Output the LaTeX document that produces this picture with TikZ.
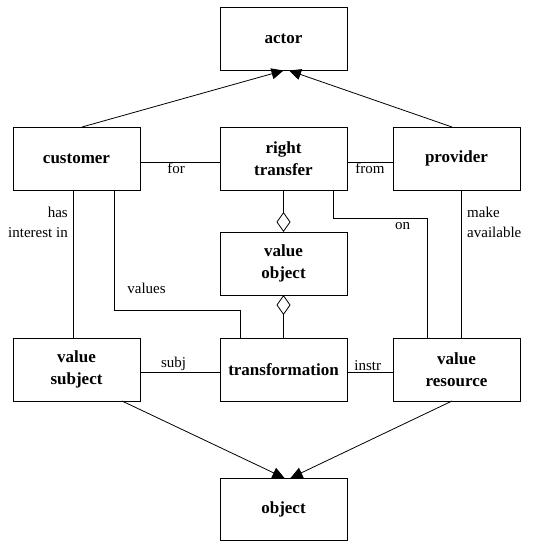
\documentclass[tikz,border=0pt]{standalone}
\usepackage{fontspec}
\setmainfont{Liberation Serif}
\usetikzlibrary{arrows.meta}
\begin{document}
\begin{tikzpicture}[x=1pt,y=-1pt,
  box/.style={draw, line width=0.9pt, minimum width=127pt, minimum height=63pt, inner sep=0pt, outer sep=0pt, align=center, font=\fontsize{17}{21.5}\selectfont\bfseries},
  lbl/.style={font=\fontsize{15}{20}\selectfont, inner sep=1pt},
  conn/.style={line width=0.8pt},
  isa/.style={line width=0.8pt, -{Triangle[length=12pt,width=11pt]}},
  agg/.style={line width=0.8pt, {Diamond[open,length=20pt,width=14pt,line width=0.8pt]}-}
]
\useasboundingbox (0,0) rectangle (551,541);
\node[box] (actor) at (283.5,39) {actor};
\node[box] (customer) at (76.5,158.5) {customer};
\node[box] (rt) at (283.5,158.5) {right\\transfer};
\node[box] (provider) at (456.5,158.5) {provider};
\node[box] (vo) at (283.5,263.5) {value\\object};
\node[box] (vs) at (76.5,369.5) {value\\subject};
\node[box] (tr) at (283.5,369.5) {transformation};
\node[box] (vr) at (456.5,369.5) {value\\resource};
\node[box, minimum height=62pt] (obj) at (283.5,509) {object};

% generalizations
\draw[isa] ([xshift=5.5pt]customer.north) -- ([xshift=0pt]actor.south);
\draw[isa] ([xshift=-4.5pt]provider.north) -- ([xshift=5.5pt]actor.south);
\draw[isa] ([xshift=45.5pt]vs.south) -- ([xshift=1pt]obj.north);
\draw[isa] ([xshift=-4.5pt]vr.south) -- ([xshift=7pt]obj.north);

% horizontal associations
\draw[conn] ([yshift=-3.5pt]customer.east) -- node[lbl, below, pos=0.45] {for} ([yshift=-3.5pt]rt.west);
\draw[conn] ([yshift=-3.5pt]rt.east) -- node[lbl, below] {from} ([yshift=-3.5pt]provider.west);
\draw[conn] ([yshift=-2.5pt]vs.east) -- node[lbl, above, pos=0.42] {subj} ([yshift=-2.5pt]tr.west);
\draw[conn] ([yshift=-2.5pt]tr.east) -- node[lbl, above, pos=0.45] {instr} ([yshift=-2.5pt]vr.west);

% aggregations
\draw[agg] (vo.north) -- (rt.south);
\draw[agg] (vo.south) -- (tr.north);

% vertical associations
\draw[conn] ([xshift=-3.5pt]customer.south) -- ([xshift=-3.5pt]vs.north);
\draw[conn] ([xshift=4.5pt]provider.south) -- ([xshift=4.5pt]vr.north);
\coordinate (c1) at (114,310);
\coordinate (c2) at (333,218);
\draw[conn] (customer.south -| c1) -- (c1) -- (c1 -| 240,0) -- (tr.north -| 240,0);
\draw[conn] (rt.south -| c2) -- (c2) -- (c2 -| 427,0) -- (vr.north -| 427,0);

% labels
\node[lbl, anchor=east, align=right] (l1) at (69,222) {has\\interest in};
\node[lbl, anchor=west, align=left] (l2) at (466,222) {make\\available};
\node[lbl] (l3) at (146.5,288) {values};
\node[lbl] (l4) at (402.5,226) {on};
\end{tikzpicture}
\end{document}
